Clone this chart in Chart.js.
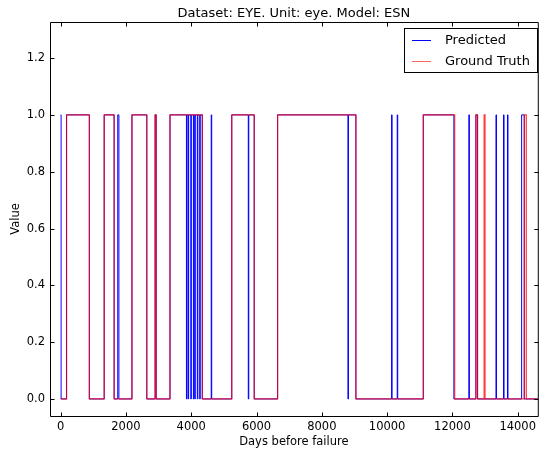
<!DOCTYPE html>
<html>
<head>
<meta charset="utf-8">
<script src="https://cdn.jsdelivr.net/npm/chart.js@4/dist/chart.umd.min.js"></script>
<style>
  html, body { margin: 0; padding: 0; background: #fff; }
  #wrap { width: 540px; height: 451px; }
</style>
</head>
<body>
<div id="wrap"><canvas id="c" width="540" height="451"></canvas></div>
<script>
// ---- data ----
const titleText = 'Dataset: EYE. Unit: eye. Model: ESN';
const xLabel = 'Days before failure';
const yLabel = 'Value';
const xTicks = [0, 2000, 4000, 6000, 8000, 10000, 12000, 14000];
const yTicks = [0, 0.2, 0.4, 0.6, 0.8, 1.0, 1.2];
const yTickLabels = ['0.0', '0.2', '0.4', '0.6', '0.8', '1.0', '1.2'];

// Ground truth: day where value changes, and the new value
const truthDays   = [0, 182, 880, 1335, 1639, 2185, 2640, 2895, 2926, 3350, 4340, 5242, 5930, 6646, 9044, 11108, 12070, 12720, 12770, 12970, 13000, 14203, 14264, 14800];
const truthValues = [0, 1,   0,   1,    0,    1,    0,    1,    0,    1,    0,    1,    0,    1,    0,    1,     0,     1,     0,     1,     0,     1,     0,     0];

// Predicted: day where value changes, and the new value
const predictedDays = [0, 15, 182, 880, 1335, 1639, 1750, 1785, 2185, 2640, 2895, 2926, 3350,
  3854, 3869, 3906, 3921, 3988, 4003, 4067, 4082, 4109, 4124, 4188, 4203, 4261, 4276, 4340,
  4613, 4628, 5242, 5748, 5763, 5930, 6646, 8801, 8816, 9044,
  10137, 10152, 10310, 10325, 11108, 12045, 12504, 12519, 12720, 12770,
  13335, 13350, 13566, 13581, 13687, 13702, 14120, 14200, 14800];
const predictedValues = [1, 0, 1, 0, 1, 0, 1, 0, 1, 0, 1, 0, 1,
  0, 1, 0, 1, 0, 1, 0, 1, 0, 1, 0, 1, 0, 1, 0,
  1, 0, 1, 0, 1, 0, 1, 0, 1, 0,
  1, 0, 1, 0, 1, 0, 1, 0, 1, 0,
  1, 0, 1, 0, 1, 0, 1, 0, 0];

const seriesNames = ['Predicted', 'Ground Truth'];
const toPoints = (xs, ys) => xs.map((x, i) => ({ x: x, y: ys[i] }));

const FONT = "'DejaVu Sans', sans-serif";

const framePlugin = {
  id: 'frame',
  afterDraw(chart) {
    const ctx = chart.ctx;
    const a = chart.chartArea;
    const xs = chart.scales.x, ys = chart.scales.y;
    ctx.save();
    ctx.strokeStyle = '#000';
    ctx.lineWidth = 1;
    ctx.beginPath();
    ctx.rect(a.left + 0.5, a.top + 0.5, a.right - a.left, a.bottom - a.top);
    ctx.stroke();
    ctx.beginPath();
    const tl = 4;
    xTicks.forEach(v => {
      const px = Math.round(xs.getPixelForValue(v)) + 0.5;
      ctx.moveTo(px, a.bottom + 0.5); ctx.lineTo(px, a.bottom + 0.5 - tl);
      ctx.moveTo(px, a.top + 0.5); ctx.lineTo(px, a.top + 0.5 + tl);
    });
    yTicks.forEach(v => {
      const py = Math.round(ys.getPixelForValue(v)) + 0.5;
      ctx.moveTo(a.left + 0.5, py); ctx.lineTo(a.left + 0.5 + tl, py);
      ctx.moveTo(a.right + 0.5, py); ctx.lineTo(a.right + 0.5 - tl, py);
    });
    ctx.stroke();

    // title centred over the axes
    ctx.fillStyle = '#000';
    ctx.font = '13px ' + FONT;
    ctx.textAlign = 'center';
    ctx.textBaseline = 'middle';
    ctx.fillText(titleText, (a.left + a.right) / 2, 13.5);

    // legend
    const lx = 404.5, ly = 28.5, lw = 133, lh = 44;
    ctx.fillStyle = '#fff';
    ctx.fillRect(lx, ly, lw, lh);
    ctx.strokeStyle = '#000';
    ctx.strokeRect(lx, ly, lw, lh);
    ctx.font = '13px ' + FONT;
    ctx.textAlign = 'left';
    chart.data.datasets.forEach((ds, i) => {
      const y = 40.5 + i * 21;
      ctx.strokeStyle = i === 0 ? 'rgb(0,0,255)' : 'rgb(255,100,100)';
      ctx.lineWidth = 1;
      ctx.beginPath();
      ctx.moveTo(412, y); ctx.lineTo(431, y);
      ctx.stroke();
      ctx.fillStyle = '#000';
      ctx.fillText(ds.label, 445, y);
    });
    ctx.restore();
  }
};

new Chart(document.getElementById('c'), {
  type: 'line',
  data: {
    datasets: [
      { label: seriesNames[0], data: toPoints(predictedDays, predictedValues),
        borderColor: 'rgb(0,0,255)', borderWidth: 1, stepped: true, pointRadius: 0,
        fill: false, order: 1 },
      { label: seriesNames[1], data: toPoints(truthDays, truthValues),
        borderColor: 'rgba(255,0,0,0.75)', borderWidth: 1.2, stepped: true, pointRadius: 0,
        fill: false, order: 0 }
    ]
  },
  options: {
    responsive: false,
    animation: false,
    devicePixelRatio: 1,
    layout: { padding: { left: 0, right: -3, top: 22, bottom: 0 } },
    plugins: { legend: { display: false }, title: { display: false }, tooltip: { enabled: false } },
    scales: {
      x: {
        type: 'linear', min: -325, max: 14615,
        grid: { display: false, drawTicks: false },
        border: { display: false },
        afterBuildTicks: s => { s.ticks = xTicks.map(v => ({ value: v })); },
        afterFit: s => { s.height = 35; },
        ticks: { color: '#000', font: { family: FONT, size: 11.5 }, padding: 4, maxRotation: 0,
                 callback: v => String(v) },
        title: { display: true, text: xLabel, color: '#000', font: { family: FONT, size: 11.5 },
                 padding: { top: 0, bottom: 2 } }
      },
      y: {
        type: 'linear', min: -0.06, max: 1.327,
        grid: { display: false, drawTicks: false },
        border: { display: false },
        afterBuildTicks: s => { s.ticks = yTicks.map(v => ({ value: v })); },
        afterFit: s => { s.width = 50; },
        ticks: { color: '#000', font: { family: FONT, size: 11.5 }, padding: 5,
                 callback: (v) => { const i = yTicks.findIndex(t => Math.abs(t - v) < 1e-9); return i >= 0 ? yTickLabels[i] : ''; } },
        title: { display: true, text: yLabel, color: '#000', font: { family: FONT, size: 11.5 },
                 padding: { top: 9, bottom: 0 } }
      }
    }
  },
  plugins: [framePlugin]
});
</script>
</body>
</html>
